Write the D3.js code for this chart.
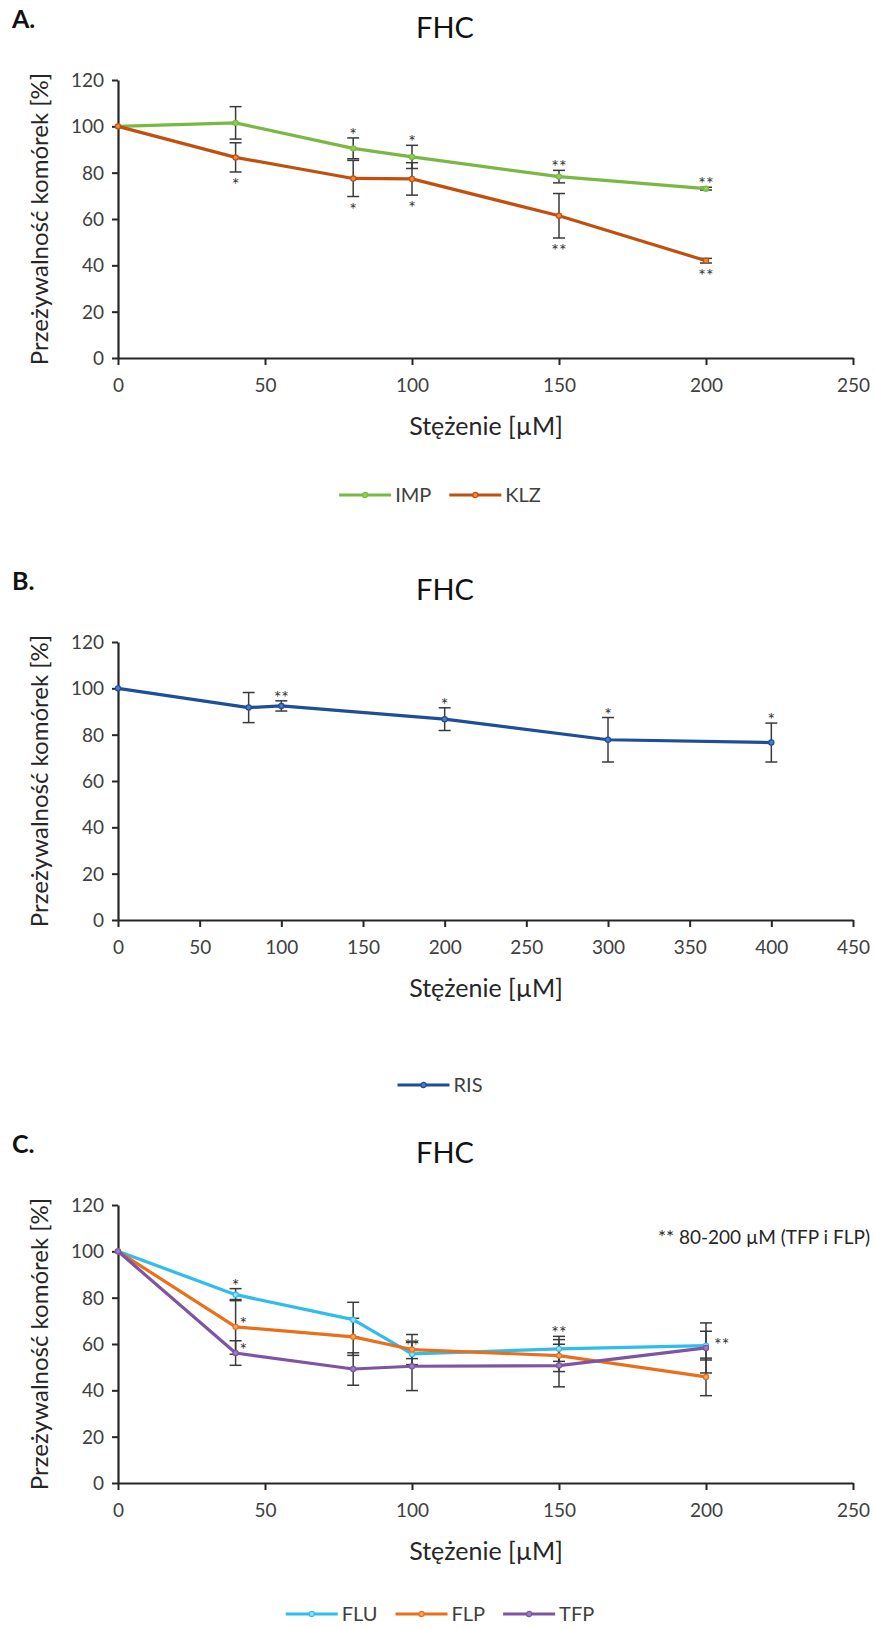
<!DOCTYPE html>
<html>
<head>
<meta charset="utf-8">
<script src="https://cdn.jsdelivr.net/npm/d3@7"></script>
<style>
  body { margin: 0; background: #fff; }
  text { font-family: Lato, "Open Sans", sans-serif; }
</style>
</head>
<body>
<svg width="875" height="1629"></svg>
<script>
// --- panel A data ---
var dosesA = [0, 40, 80, 100, 150, 200];
var impA = [100, 101.5, 90.5, 86.8, 78.3, 73.1];
var impErrA = [0, 7, 4.5, 5, 2.7, 0.6];
var impSigA = ["", "", "*", "*", "**", "**"];
var klzA = [100, 86.6, 77.5, 77.3, 61.4, 42.0];
var klzErrA = [0, 6.3, 7.8, 7, 9.6, 1];
var klzSigA = ["", "*", "*", "*", "**", "**"];

// --- panel B data ---
var dosesB = [0, 80, 100, 200, 300, 400];
var risB = [100, 91.7, 92.4, 86.7, 77.8, 76.6];
var risErrB = [0, 6.5, 2.2, 4.9, 9.6, 8.4];
var risSigB = ["", "", "**", "*", "*", "*"];

// --- panel C data ---
var dosesC = [0, 40, 80, 100, 150, 200];
var fluC = [100, 81.3, 70.5, 55.7, 57.9, 59.3];
var fluErrC = [0, 2.6, 7.5, 2, 5.4, 6.2];
var fluSigC = ["", "*", "", "**", "**", ""];
var flpC = [100, 67.4, 63.1, 57.6, 55.0, 45.8];
var flpErrC = [0, 11.8, 8, 6.5, 6.9, 8.1];
var flpSigC = ["", "*", "", "", "", ""];
var tfpC = [100, 56.1, 49.2, 50.4, 50.7, 58.3];
var tfpErrC = [0, 5.3, 7, 10.5, 9.2, 10.8];
var tfpSigC = ["", "*", "", "", "", "**"];

var yTicks = [0, 20, 40, 60, 80, 100, 120];
var xTicksA = [0, 50, 100, 150, 200, 250];
var xTicksB = [0, 50, 100, 150, 200, 250, 300, 350, 400, 450];
var noteC = "** 80-200 \u00b5M (TFP i FLP)";

var yTitle = "Przeżywalność komórek [%]";
var xTitle = "Stężenie [µM]";

var svg = d3.select("svg");
svg.append("rect").attr("width", 875).attr("height", 1629).attr("fill", "#fff");

var left = 118, right = 853;

function drawPanel(cfg) {
    var g = svg.append("g");
    var x = d3.scaleLinear().domain(cfg.xDomain).range([left, right]);
    var y = d3.scaleLinear().domain([0, 120]).range([cfg.top + 278, cfg.top]);

    // panel letter and title
    g.append("text").attr("x", 12).attr("y", cfg.top - 52)
        .attr("font-size", 25).attr("font-weight", "bold").attr("fill", "#111")
        .text(cfg.letter);
    g.append("text").attr("x", 445).attr("y", cfg.top - 42)
        .attr("text-anchor", "middle").attr("font-size", 29).attr("fill", "#111")
        .text("FHC");

    // axes
    var yAxis = g.append("g").attr("transform", "translate(" + left + ",0)")
        .call(d3.axisLeft(y).tickValues(yTicks).tickSize(6).tickPadding(8).tickSizeOuter(0));
    var xAxis = g.append("g").attr("transform", "translate(0," + y(0) + ")")
        .call(d3.axisBottom(x).tickValues(cfg.xTicks).tickSize(7).tickPadding(14).tickSizeOuter(0));
    [yAxis, xAxis].forEach(function (a) {
        a.select(".domain").attr("stroke", "#262626").attr("stroke-width", 2.2);
        a.selectAll(".tick line").attr("stroke", "#262626").attr("stroke-width", 2);
        a.selectAll(".tick text").attr("font-size", 19).attr("fill", "#404040")
            .attr("font-family", "Lato, sans-serif");
    });
    yAxis.selectAll(".tick text").attr("dy", "0.34em");

    g.append("text")
        .attr("transform", "translate(48," + (y(60)) + ") rotate(-90)")
        .attr("text-anchor", "middle").attr("font-size", 24).attr("fill", "#262626")
        .text(yTitle);
    g.append("text").attr("x", 486).attr("y", y(0) + 77)
        .attr("text-anchor", "middle").attr("font-size", 25).attr("fill", "#262626")
        .text(xTitle);

    var line = d3.line().x(function (d) { return x(d.dose); }).y(function (d) { return y(d.v); });

    // error bars
    cfg.series.forEach(function (s) {
        var pts = s.data.filter(function (d) { return d.e > 0; });
        var eb = g.append("g").attr("stroke", "#3a3a3a").attr("stroke-width", 1.5);
        eb.selectAll("line.v").data(pts).enter().append("line")
            .attr("x1", function (d) { return x(d.dose); }).attr("x2", function (d) { return x(d.dose); })
            .attr("y1", function (d) { return y(d.v + d.e); }).attr("y2", function (d) { return y(d.v - d.e); });
        [1, -1].forEach(function (sgn) {
            eb.selectAll(null).data(pts).enter().append("line")
                .attr("x1", function (d) { return x(d.dose) - 6; }).attr("x2", function (d) { return x(d.dose) + 6; })
                .attr("y1", function (d) { return y(d.v + sgn * d.e); }).attr("y2", function (d) { return y(d.v + sgn * d.e); });
        });
    });

    // lines and markers
    cfg.series.forEach(function (s) {
        g.append("path").datum(s.data).attr("d", line)
            .attr("fill", "none").attr("stroke", s.color).attr("stroke-width", 3.2)
            .attr("stroke-linejoin", "round");
        g.selectAll(null).data(s.data).enter().append("circle")
            .attr("cx", function (d) { return x(d.dose); }).attr("cy", function (d) { return y(d.v); })
            .attr("r", 2.6).attr("fill", s.fill).attr("stroke", s.color).attr("stroke-width", 1.2);
    });

    // significance marks
    cfg.series.forEach(function (s) {
        var marks = s.data.filter(function (d) { return d.s; });
        g.selectAll(null).data(marks).enter().append("text")
            .attr("font-size", 18).attr("fill", "#333").attr("text-anchor", function (d) {
                return d.pos === "right" ? "start" : "middle";
            })
            .attr("x", function (d) { return d.pos === "right" ? x(d.dose) + (d.s.length > 1 ? 8 : 4) : x(d.dose); })
            .attr("y", function (d) {
                if (d.pos === "above") return y(d.v + d.e) + 3;
                if (d.pos === "below") return y(d.v - d.e) + 19;
                return y(d.v) + 3;
            })
            .text(function (d) { return d.s; });
    });

    // legend
    var lg = g.append("g");
    var cx = 0;
    cfg.series.forEach(function (s) {
        var item = lg.append("g").attr("transform", "translate(" + cx + ",0)");
        item.append("line").attr("x1", 0).attr("x2", 52).attr("stroke", s.color).attr("stroke-width", 3.2);
        item.append("circle").attr("cx", 26).attr("r", 2.6).attr("fill", s.fill)
            .attr("stroke", s.color).attr("stroke-width", 1.2);
        var t = item.append("text").attr("x", 56).attr("y", 7).attr("font-size", 20)
            .attr("fill", "#404040").text(s.name);
        cx += 56 + t.node().getComputedTextLength() + 18;
    });
    cx -= 18;
    lg.attr("transform", "translate(" + (440 - cx / 2) + "," + (y(0) + cfg.legendGap) + ")");

    if (cfg.note) {
        g.append("text").attr("x", 870).attr("y", y(120) + 39)
            .attr("text-anchor", "end").attr("font-size", 19).attr("fill", "#262626")
            .text(cfg.note);
    }
}

function mk(name, x, v, e, s, pos, color, fill) {
    return {
        name: name, color: color, fill: fill,
        data: x.map(function (d, i) { return { dose: d, v: v[i], e: e[i], s: s[i], pos: pos[i] }; })
    };
}

var up = ["above", "above", "above", "above", "above", "above"];
var down = ["below", "below", "below", "below", "below", "below"];

drawPanel({
    letter: "A.", top: 80, xDomain: [0, 250], xTicks: xTicksA, legendGap: 137,
    series: [
        mk("IMP", dosesA, impA, impErrA, impSigA, up, "#78b843", "#8fd050"),
        mk("KLZ", dosesA, klzA, klzErrA, klzSigA, down, "#c0500e", "#f08a3a")
    ]
});

drawPanel({
    letter: "B.", top: 642, xDomain: [0, 450], xTicks: xTicksB, legendGap: 165,
    series: [
        mk("RIS", dosesB, risB, risErrB, risSigB, up, "#1f4e99", "#4a7cc8")
    ]
});

drawPanel({
    letter: "C.", top: 1205, xDomain: [0, 250], xTicks: xTicksA, legendGap: 131,
    note: noteC,
    series: [
        mk("FLU", dosesC, fluC, fluErrC, fluSigC, up, "#2fbdee", "#8fe0fa"),
        mk("FLP", dosesC, flpC, flpErrC, flpSigC, ["", "right", "", "", "", ""], "#e8701a", "#f5a25a"),
        mk("TFP", dosesC, tfpC, tfpErrC, tfpSigC, ["", "right", "", "", "", "right"], "#7d55a3", "#a07cc4")
    ]
});
</script>
</body>
</html>
